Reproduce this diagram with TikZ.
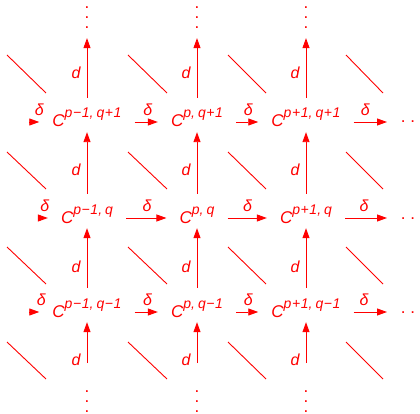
\documentclass[tikz,border=0pt]{standalone}
\usepackage{fontspec}
\setmainfont{Liberation Sans}
\usetikzlibrary{arrows.meta}
\definecolor{rd}{RGB}{255,0,0}
\newcommand\Cnd[1]{{\fontsize{17}{17}\selectfont\itshape C}\raisebox{9pt}{\fontsize{14}{14}\selectfont\itshape #1}}
\newcommand\vdts{\vbox{\baselineskip=10pt\lineskiplimit=0pt\hbox{.}\hbox{.}\hbox{.}}}
\newcommand\hdts{\raisebox{4pt}{.\kern4.8pt.\kern4.8pt.}}
\newcommand\mi{\kern0.6pt−\kern0.6pt}
\newcommand\pl{\kern0.6pt+\kern0.6pt}
\begin{document}
\begin{tikzpicture}[x=1pt,y=-1pt,
  every node/.style={text=rd, font=\fontsize{17}{17}\selectfont},
  cn/.style={anchor=base, inner xsep=13pt, inner ysep=5pt, text height=24pt, text depth=0pt},
  dn/.style={inner sep=0pt},
  rn/.style={anchor=base west, inner xsep=13.7pt, inner ysep=0pt},
  arr/.style={draw=rd, line width=0.9pt, -{Triangle[length=10pt,width=7pt]}},
  dg/.style={draw=rd, line width=0.9pt},
  lbd/.style={left=6pt, inner sep=0pt, font=\fontsize{16}{16}\selectfont\itshape},
  lbs/.style={above=6pt, inner sep=0pt, font=\fontsize{16}{16}\selectfont\itshape}]
\useasboundingbox (0,0) rectangle (420,414);
% nodes
\node[cn] (n11) at (87,127) {\Cnd{p\mi1,\kern3pt q\pl1}};
\node[cn] (n12) at (197,127) {\Cnd{p,\kern3pt q\pl1}};
\node[cn] (n13) at (306,127) {\Cnd{p\pl1,\kern3pt q\pl1}};
\node[cn] (n21) at (87,223) {\Cnd{p\mi1,\kern3pt q}};
\node[cn] (n22) at (197,223) {\Cnd{p,\kern3pt q}};
\node[cn] (n23) at (306,223) {\Cnd{p\pl1,\kern3pt q}};
\node[cn] (n31) at (87,317) {\Cnd{p\mi1,\kern3pt q\mi1}};
\node[cn] (n32) at (197,317) {\Cnd{p,\kern3pt q\mi1}};
\node[cn] (n33) at (306,317) {\Cnd{p\pl1,\kern3pt q\mi1}};
\node[rn] (r1) at (387,127) {\hdts};
\node[rn] (r2) at (387,223) {\hdts};
\node[rn] (r3) at (387,317) {\hdts};
\foreach \c/\x in {1/87,2/197,3/306}{
  \node[dn] (t\c) at (\x,18) {\vdts};
  \node[dn] (b\c) at (\x,402) {\vdts};
  \coordinate (bs\c) at (\x,363);
}
\foreach \r in {1,2,3}{
  \coordinate (l\r) at ([xshift=-10pt,yshift=5pt]n\r1.base west);
}
% vertical arrows
\foreach \c in {1,2,3}{
  \draw[arr] (n1\c) -- ([yshift=-9pt]t\c.south) node[lbd,pos=0.42] {d};
  \draw[arr] (n2\c) -- (n1\c) node[lbd,pos=0.39] {d};
  \draw[arr] (n3\c) -- (n2\c) node[lbd,pos=0.36] {d};
  \draw[arr] (bs\c) -- (n3\c) node[lbd,pos=0.07] {d};
}
% horizontal arrows
\draw[arr] (l1) -- ([yshift=5pt]n11.base west) node[lbs,pos=1] {δ};
\draw[arr] ([yshift=5pt]n11.base east) -- ([yshift=5pt]n12.base west) node[lbs,pos=0.57] {δ};
\draw[arr] ([yshift=5pt]n12.base east) -- ([yshift=5pt]n13.base west) node[lbs,pos=0.55] {δ};
\draw[arr] ([yshift=5pt]n13.base east) -- ([yshift=5pt]r1.base west) node[lbs,pos=0.35] {δ};
\draw[arr] (l2) -- ([yshift=5pt]n21.base west) node[lbs,pos=0.7] {δ};
\draw[arr] ([yshift=5pt]n21.base east) -- ([yshift=5pt]n22.base west) node[lbs,pos=0.52] {δ};
\draw[arr] ([yshift=5pt]n22.base east) -- ([yshift=5pt]n23.base west) node[lbs,pos=0.51] {δ};
\draw[arr] ([yshift=5pt]n23.base east) -- ([yshift=5pt]r2.base west) node[lbs,pos=0.45] {δ};
\draw[arr] (l3) -- ([yshift=5pt]n31.base west) node[lbs,pos=1.2] {δ};
\draw[arr] ([yshift=5pt]n31.base east) -- ([yshift=5pt]n32.base west) node[lbs,pos=0.55] {δ};
\draw[arr] ([yshift=5pt]n32.base east) -- ([yshift=5pt]n33.base west) node[lbs,pos=0.55] {δ};
\draw[arr] ([yshift=5pt]n33.base east) -- ([yshift=5pt]r3.base west) node[lbs,pos=0.31] {δ};
% diagonals
\foreach \xa/\xb in {7/46,128/167,228/266,346/383}{
  \foreach \ya/\yb in {55/93,152/189,247/284,342/379}{
    \draw[dg] (\xa,\ya) -- (\xb,\yb);
  }
}
\end{tikzpicture}
\end{document}
